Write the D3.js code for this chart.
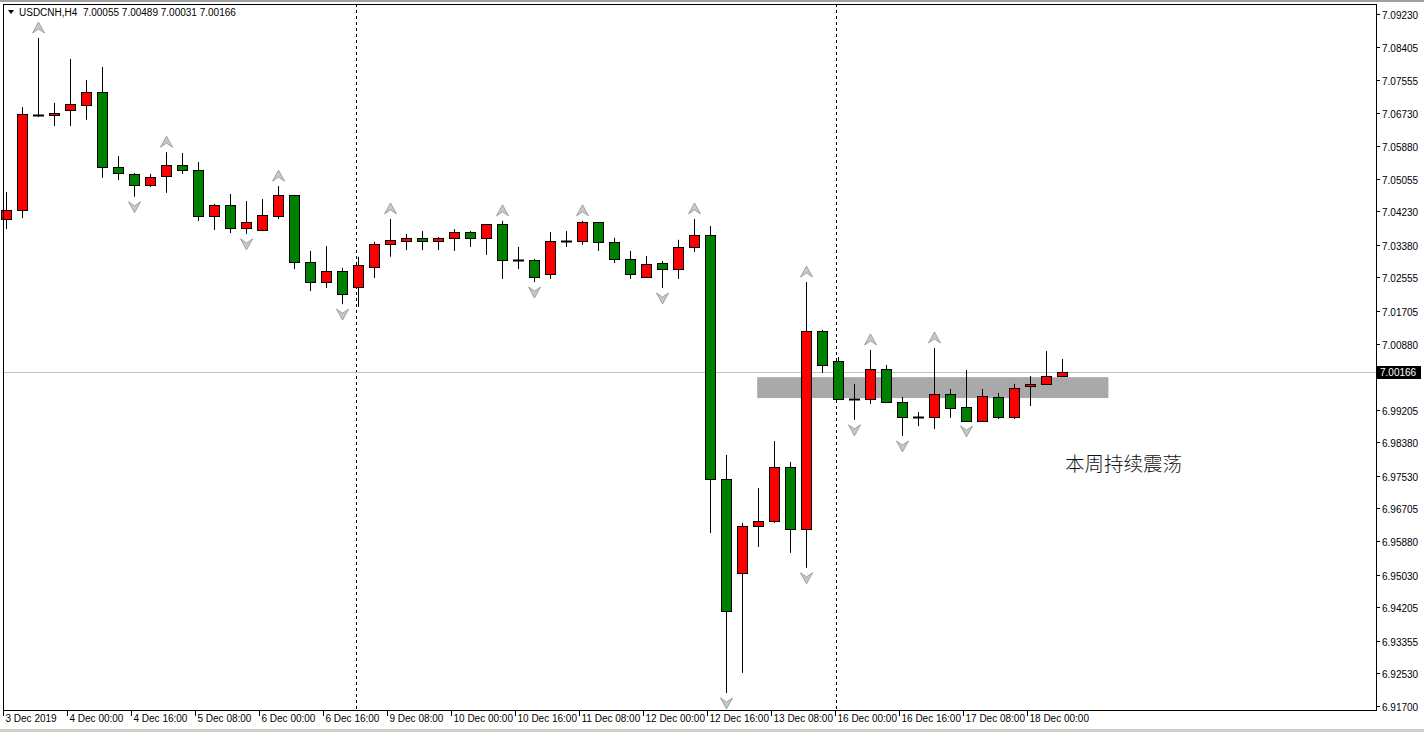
<!DOCTYPE html>
<html><head><meta charset="utf-8">
<script src="https://cdn.jsdelivr.net/npm/d3@7"></script>
<style>body{margin:0;background:#fff;}svg{display:block;}</style>
</head><body>
<script>
// OHLC per 4-hour candle, index 0..66
const opens  = [7.0404,7.0427,7.0668,7.0667,7.0680,7.0693,7.0725,7.0535,7.0518,7.0490,7.0513,7.0541,7.0528,7.0411,7.0439,7.0381,7.0376,7.0411,7.0465,7.0295,7.0244,7.0272,7.0232,7.0282,7.0340,7.0348,7.0356,7.0348,7.0356,7.0371,7.0356,7.0391,7.0300,7.0300,7.0264,7.0349,7.0348,7.0396,7.0346,7.0302,7.0257,7.0292,7.0277,7.0333,7.0363,6.9745,6.9507,6.9626,6.9639,6.9776,6.9619,7.0120,7.0044,6.9948,6.9948,7.0024,6.9940,6.9902,6.9902,6.9960,6.9928,6.9892,6.9953,6.9902,6.9981,6.9986,7.00055];
const highs  = [7.0472,7.0687,7.0862,7.0698,7.0809,7.0756,7.0789,7.0563,7.0520,7.0518,7.0573,7.0571,7.0548,7.0442,7.0467,7.0449,7.0454,7.0487,7.0465,7.0323,7.0335,7.0280,7.0308,7.0346,7.0404,7.0366,7.0373,7.0358,7.0378,7.0373,7.0391,7.0399,7.0333,7.0302,7.0371,7.0373,7.0399,7.0396,7.0356,7.0323,7.0310,7.0297,7.0351,7.0404,7.0386,6.9806,6.9634,6.9722,6.9841,6.9788,7.0244,7.0123,7.0054,6.9986,7.0072,7.0034,6.9953,6.9915,7.0077,6.9973,7.0021,6.9973,6.9963,6.9986,7.0006,7.0069,7.00489];
const lows   = [7.0378,7.0406,7.0662,7.0639,7.0639,7.0655,7.0508,7.0502,7.0460,7.0485,7.0470,7.0518,7.0399,7.0376,7.0368,7.0366,7.0373,7.0404,7.0277,7.0221,7.0229,7.0188,7.0181,7.0254,7.0308,7.0325,7.0325,7.0325,7.0323,7.0333,7.0313,7.0252,7.0277,7.0244,7.0252,7.0333,7.0338,7.0323,7.0292,7.0252,7.0257,7.0229,7.0252,7.0320,6.9608,6.9203,6.9254,6.9573,6.9634,6.9558,6.9520,7.0014,6.9948,6.9895,6.9935,6.9940,6.9854,6.9879,6.9872,6.9900,6.9892,6.9890,6.9897,6.9897,6.9930,6.9986,7.00031];
const closes = [7.0427,7.0670,7.0667,7.0672,7.0695,7.0725,7.0535,7.0520,7.0490,7.0510,7.0541,7.0528,7.0411,7.0439,7.0381,7.0396,7.0414,7.0465,7.0295,7.0244,7.0272,7.0214,7.0287,7.0340,7.0351,7.0356,7.0348,7.0356,7.0371,7.0356,7.0391,7.0300,7.0300,7.0257,7.0348,7.0348,7.0396,7.0346,7.0302,7.0264,7.0290,7.0277,7.0333,7.0363,6.9745,6.9411,6.9626,6.9639,6.9776,6.9619,7.0120,7.0034,6.9948,6.9948,7.0024,6.9940,6.9902,6.9902,6.9960,6.9925,6.9892,6.9955,6.9902,6.9976,6.9986,7.0006,7.00166];
const upFractals   = [2,10,17,24,31,36,43,50,54,58];
const downFractals = [8,15,21,33,41,45,50,53,56,60];
const xLabels = ["3 Dec 2019","4 Dec 00:00","4 Dec 16:00","5 Dec 08:00","6 Dec 00:00","6 Dec 16:00","9 Dec 08:00","10 Dec 00:00","10 Dec 16:00","11 Dec 08:00","12 Dec 00:00","12 Dec 16:00","13 Dec 08:00","16 Dec 00:00","16 Dec 16:00","17 Dec 08:00","18 Dec 00:00"];
const xLabelIdx = [0,4,8,12,16,20,24,28,32,36,40,44,48,52,56,60,64];
const weekSeparators = [22,52];
const yTicks = [7.09230,7.08405,7.07555,7.06730,7.05880,7.05055,7.04230,7.03380,7.02555,7.01705,7.00880,7.00055,6.99205,6.98380,6.97530,6.96705,6.95880,6.95030,6.94205,6.93355,6.92530,6.91700];
const zone = {i0:46.95, i1:68.9, top:7.0003, bottom:6.9950};
const lastPrice = 7.00166;
const header = "USDCNH,H4  7.00055 7.00489 7.00031 7.00166";
const note = "本周持续震荡";

const W=1424,H=732, L=3,T=4,R=1376,B=710;
const svg=d3.select("body").append("svg").attr("width",W).attr("height",H);
svg.append("rect").attr("width",W).attr("height",H).attr("fill","#fff");
svg.append("rect").attr("x",0).attr("y",0).attr("width",W).attr("height",2).attr("fill","#a0a0a0");
svg.append("rect").attr("x",0).attr("y",729).attr("width",W).attr("height",3).attr("fill","#d4d0c8");
const x=d3.scaleLinear().domain([0,66]).range([6,1062]);
const y=d3.scaleLinear().domain([6.91700,7.09230]).range([706,14]);
const g=svg.append("g");
const font="'Liberation Sans', Arial, sans-serif";

g.append("rect").attr("x",x(zone.i0)).attr("y",y(zone.top)).attr("width",x(zone.i1)-x(zone.i0))
 .attr("height",y(zone.bottom)-y(zone.top)).attr("fill","#a9a9a9");
weekSeparators.forEach(i=>g.append("line").attr("x1",Math.round(x(i))-1.5).attr("x2",Math.round(x(i))-1.5)
  .attr("y1",T).attr("y2",B).attr("stroke","#000").attr("stroke-dasharray","3,3"));
g.append("line").attr("x1",L).attr("x2",R).attr("y1",Math.round(y(lastPrice))+0.5).attr("y2",Math.round(y(lastPrice))+0.5).attr("stroke","#c0c0c0");

const data=opens.map((o,i)=>({i,o,h:highs[i],l:lows[i],c:closes[i]}));
const cg=g.selectAll("g.c").data(data).join("g");
cg.append("line").attr("x1",d=>Math.round(x(d.i))+0.5).attr("x2",d=>Math.round(x(d.i))+0.5)
  .attr("y1",d=>y(d.h)).attr("y2",d=>y(d.l)).attr("stroke","#000");
cg.each(function(d){
  const s=d3.select(this), cx=Math.round(x(d.i));
  const yt=Math.round(y(Math.max(d.o,d.c))), yb=Math.round(y(Math.min(d.o,d.c)));
  if(yb-yt<2){
    s.append("line").attr("x1",cx-5).attr("x2",cx+6).attr("y1",yt+0.5).attr("y2",yt+0.5).attr("stroke","#000").attr("stroke-width",2);
  } else {
    s.append("rect").attr("x",cx-4.5).attr("y",yt+0.5).attr("width",10).attr("height",yb-yt)
      .attr("fill",d.c>=d.o?"#ff0000":"#008000").attr("stroke","#000");
  }
});
function arrow(cx,cy,up){
  const p = up ? `M${cx-6},${cy+5} L${cx},${cy-6} L${cx+6},${cy+5} L${cx},${cy+1} Z`
               : `M${cx-6},${cy-5} L${cx},${cy+6} L${cx+6},${cy-5} L${cx},${cy-1} Z`;
  g.append("path").attr("d",p).attr("fill","#c8c8c8").attr("stroke","#909090").attr("stroke-width",0.8);
}
upFractals.forEach(i=>arrow(Math.round(x(i))+0.5,y(highs[i])-10,true));
downFractals.forEach(i=>arrow(Math.round(x(i))+0.5,y(lows[i])+10,false));

svg.append("rect").attr("x",L+0.5).attr("y",T+0.5).attr("width",R-L).attr("height",B-T).attr("fill","none").attr("stroke","#000");
const ly=Math.round(y(lastPrice));
yTicks.forEach(v=>{
  const yy=Math.round(y(v))+0.5;
  svg.append("line").attr("x1",R).attr("x2",R+4).attr("y1",yy).attr("y2",yy).attr("stroke","#000");
  if(Math.abs(yy-ly)>8)
    svg.append("text").attr("x",R+6).attr("y",yy+4).attr("font-family",font).attr("font-size",10).text(v.toFixed(5));
});
svg.append("rect").attr("x",R+1).attr("y",ly-6).attr("width",44).attr("height",13).attr("fill","#000");
svg.append("text").attr("x",R+4).attr("y",ly+4).attr("fill","#fff").attr("font-family",font).attr("font-size",10).text(lastPrice.toFixed(5));
xLabels.forEach((t,k)=>{
  const xx=Math.round(x(xLabelIdx[k]))-2.5;
  svg.append("line").attr("x1",xx).attr("x2",xx).attr("y1",B).attr("y2",B+6).attr("stroke","#000");
  svg.append("text").attr("x",xx+2).attr("y",B+12).attr("font-family",font).attr("font-size",10).text(t);
});
svg.append("path").attr("d","M8,10 L14,10 L11,14 Z").attr("fill","#000");
svg.append("text").attr("x",19).attr("y",16).attr("font-family",font).attr("font-size",10).style("white-space","pre").text(header);
svg.append("text").attr("x",1065).attr("y",471).attr("font-family","'Noto Sans CJK SC',sans-serif").attr("font-size",19.5).attr("font-weight",300).attr("fill","#111").text(note);
</script>
</body></html>
